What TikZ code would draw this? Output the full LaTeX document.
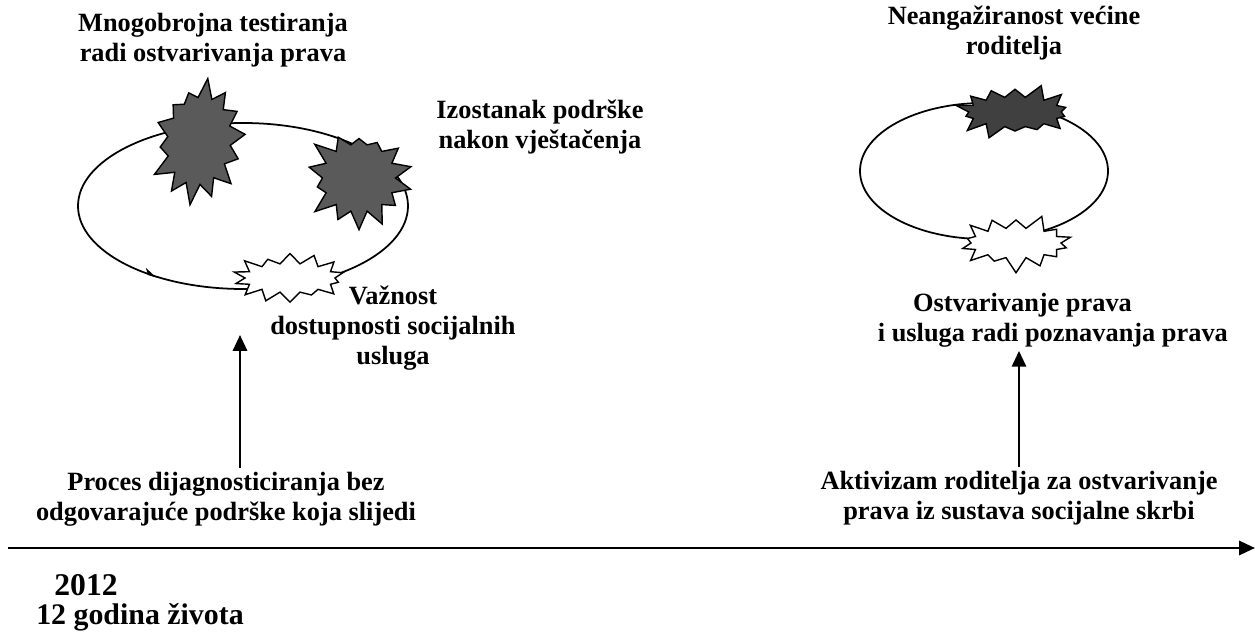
\documentclass[tikz,border=0pt]{standalone}
\usepackage{fontspec}
\setmainfont{Liberation Serif}
\usetikzlibrary{arrows.meta, shapes.symbols, decorations.markings, calc}
\definecolor{BurstDark}{RGB}{90,90,90}
\definecolor{BurstDarker}{RGB}{64,64,64}

\begin{document}
\begin{tikzpicture}[x=0.02cm,y=0.02cm,
        lbl/.style={font=\fontsize{15}{17}\selectfont\bfseries,align=center,inner sep=2pt},
        burst/.style={starburst,draw=black,line width=0.8pt,starburst point height=0.42cm,
                      starburst points=14,inner sep=0pt},
        flatburst/.style={burst,starburst point height=0.3cm},
        darkburst/.style={fill=BurstDark},
        lightburst/.style={fill=white},
        cycle/.style={draw=black,line width=1pt},
        arr/.style={-{Triangle[length=9pt,width=8pt]},line width=1.5pt}
      ]
        \useasboundingbox (0,0) rectangle (1255,632);
        \draw[cycle,postaction={decorate},decoration={markings,
              mark=at position 0.64 with {\arrow{Stealth[length=6pt,width=6pt,left]}}}]
              (243,426) ellipse [x radius=165, y radius=83];
        \draw[cycle] (984,461) ellipse [x radius=124, y radius=68];
        \node[burst,darkburst,minimum width=2.1cm,minimum height=2.6cm,random starburst=7,rotate=-8] (brTest) at (199,491) {};
        \node[burst,darkburst,minimum width=2.3cm,minimum height=2.2cm,random starburst=23] (brSupp) at (359,454) {};
        \node[flatburst,lightburst,minimum width=2.4cm,minimum height=1.18cm,random starburst=41] (brAccess) at (290,354) {};
        \node[flatburst,darkburst,fill=BurstDarker,minimum width=2.45cm,minimum height=1.2cm,random starburst=12] (brParent) at (1015,520) {};
        \node[flatburst,lightburst,minimum width=2.4cm,minimum height=1.2cm,random starburst=58] (brRights) at (1016,389) {};
        \node[lbl] (tTest) at (213,592) {Mnogobrojna testiranja\\radi ostvarivanja prava};
        \node[lbl] (tSupp) at (540,505) {Izostanak podrške\\nakon vještačenja};
        \node[lbl] (tAccess) at (393,304) {Važnost\\dostupnosti socijalnih\\usluga};
        \node[lbl] (tParent) at (1014,599) {Neangažiranost većine\\roditelja};
        \node[lbl,align=left,anchor=west] (tRights) at (874,312) {\hspace*{20pt}Ostvarivanje prava\\i usluga radi poznavanja prava};
        \node[lbl] (tProc) at (226,133) {Proces dijagnosticiranja bez\\odgovarajuće podrške koja slijedi};
        \node[lbl] (tActiv) at (1019,134) {Aktivizam roditelja za ostvarivanje\\prava iz sustava socijalne skrbi};
        \coordinate (axStart) at (8,84);
        \coordinate (axEnd) at (1255,84);
        \coordinate (tipL) at (240,297);
        \draw[arr] (axStart) -- (axEnd);
        \draw[arr] (tProc.north -| tipL) -- (tipL);
        \draw[arr] (tActiv.north) -- (tActiv.north |- tRights.south);
        \node[font=\fontsize{18}{20}\selectfont\bfseries] (tYear) at (86,47) {2012};
        \node[font=\fontsize{17}{19}\selectfont\bfseries] (tAge) at (140,15) {12 godina života};
      \end{tikzpicture}
\end{document}
